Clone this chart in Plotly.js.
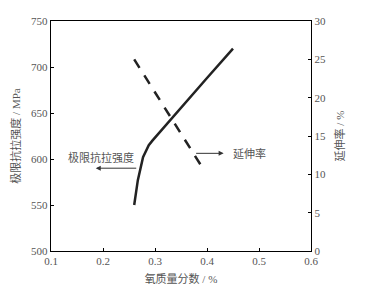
<!DOCTYPE html>
<html>
<head>
<meta charset="utf-8">
<script src="https://cdn.plot.ly/plotly-3.0.1.min.js"></script>
<style>
  html, body { margin: 0; padding: 0; background: #fff; }
  #chart { width: 367px; height: 294px; }
</style>
</head>
<body>
<div id="chart"></div>
<script>
// Oxygen mass fraction (%) vs. ultimate tensile strength (MPa)
const oxygenStrength = [0.26, 0.267, 0.277, 0.288, 0.295, 0.33, 0.40, 0.45];
const tensileStrength = [550, 577, 602, 615, 620, 643, 688, 720];

// Oxygen mass fraction (%) vs. elongation (%)
const oxygenElong = [0.26, 0.33, 0.39];
const elongation = [25, 17.5, 11];

// Axis ticks
const xTicks = [0.1, 0.2, 0.3, 0.4, 0.5, 0.6];
const yTicks = [500, 550, 600, 650, 700, 750];
const y2Ticks = [0, 5, 10, 15, 20, 25, 30];

const labelStrength = '极限抗拉强度';
const labelElong = '延伸率';

const FONT = '"Liberation Serif", "Times New Roman", "Noto Sans CJK SC", serif';
const TEXT_COLOR = '#555';

const traces = [
  {
    x: oxygenStrength, y: tensileStrength,
    type: 'scatter', mode: 'lines',
    line: { color: '#222', width: 2.5, shape: 'linear' },
    hoverinfo: 'skip'
  },
  {
    x: oxygenElong, y: elongation,
    type: 'scatter', mode: 'lines', yaxis: 'y2',
    line: { color: '#222', width: 2.5, dash: '10px,9px' },
    hoverinfo: 'skip'
  }
];

const axisBase = {
  showline: true, linecolor: '#000', linewidth: 1.2,
  ticks: 'inside', ticklen: 3, tickcolor: '#000', tickwidth: 1,
  showgrid: false, zeroline: false,
  tickfont: { family: FONT, size: 11, color: TEXT_COLOR }
};

const layout = {
  width: 367, height: 294,
  margin: { l: 51, r: 56, t: 21, b: 43 },
  paper_bgcolor: '#fff', plot_bgcolor: '#fff',
  showlegend: false,
  font: { family: FONT, color: TEXT_COLOR, size: 11 },
  xaxis: Object.assign({}, axisBase, {
    range: [0.1, 0.6], tickvals: xTicks, ticktext: xTicks.map(v => v.toFixed(1)),
    mirror: true,
    title: { text: '氧质量分数 / %', font: { family: FONT, size: 11, color: TEXT_COLOR }, standoff: 8 }
  }),
  yaxis: Object.assign({}, axisBase, {
    range: [500, 750], tickvals: yTicks,
    title: { text: '极限抗拉强度 / MPa', font: { family: FONT, size: 11, color: TEXT_COLOR }, standoff: 8 }
  }),
  yaxis2: Object.assign({}, axisBase, {
    range: [0, 30], tickvals: y2Ticks,
    overlaying: 'y', side: 'right',
    title: { text: '延伸率 / %', font: { family: FONT, size: 11, color: TEXT_COLOR }, standoff: 11 }
  }),
  annotations: [
    {
      xref: 'x', yref: 'y', x: 0.186, y: 590,
      ax: 42, ay: 0, text: '', showarrow: true,
      arrowhead: 2, arrowsize: 1, arrowwidth: 1, arrowcolor: '#333'
    },
    {
      xref: 'x', yref: 'y', x: 0.196, y: 602,
      text: labelStrength, showarrow: false,
      font: { family: FONT, size: 11, color: TEXT_COLOR }
    },
    {
      xref: 'x', yref: 'y2', x: 0.432, y: 12.74,
      ax: -29, ay: 0, text: '', showarrow: true,
      arrowhead: 2, arrowsize: 1, arrowwidth: 1, arrowcolor: '#333'
    },
    {
      xref: 'x', yref: 'y2', x: 0.481, y: 12.7,
      text: labelElong, showarrow: false,
      font: { family: FONT, size: 11, color: TEXT_COLOR }
    }
  ]
};

Plotly.newPlot('chart', traces, layout, { staticPlot: true, displayModeBar: false });
</script>
</body>
</html>
